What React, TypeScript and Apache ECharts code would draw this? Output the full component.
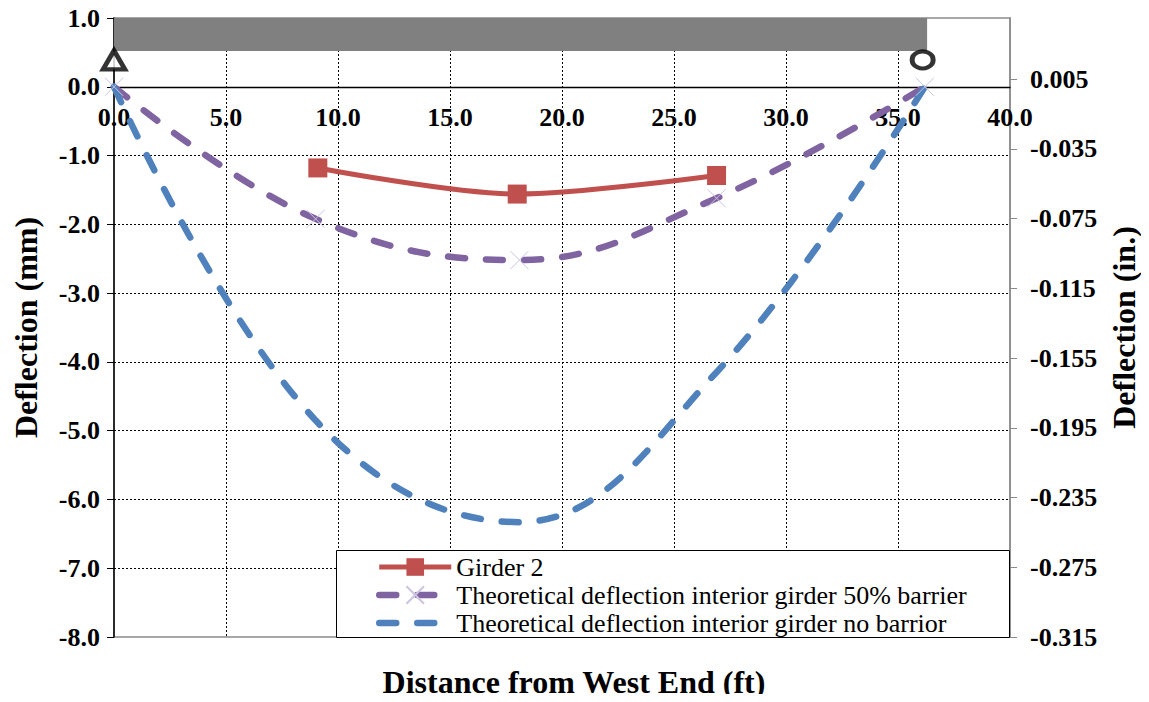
import React, { useEffect, useRef } from "react";
import * as echarts from "echarts";

// ---- data ----
const xTicks = [0, 5, 10, 15, 20, 25, 30, 35, 40];
const girder2X = [9.1, 18.0, 26.9];
const girder2Y = [-1.18, -1.56, -1.29];
const theoryX = [0, 9.0, 18.1, 26.9, 36.2];
const barrier50Y = [0, -1.92, -2.52, -1.62, 0];
const noBarrierY = [0, -4.85, -6.33, -4.15, 0];
const beamSpan = [0, 36.3]; // ft
const beamDepth = [0.52, 1.0]; // mm-axis units
const supportX = [0, 36.1];
const supportY = [0.39, 0.39];
const rightAxisMin = -0.315;
const rightAxisStep = 0.04;

const FONT = "Times New Roman";
const xMark = "path://M0,0L10,10M10,0L0,10";

export default function App() {
  const ref = useRef<HTMLDivElement>(null);
  useEffect(() => {
    if (!ref.current) return;
    const chart = echarts.init(ref.current, undefined, { renderer: "svg" });
    const tickFont = { fontFamily: FONT, fontWeight: "bold" as const, fontSize: 26, color: "#000" };
    const titleFont = { fontFamily: FONT, fontWeight: "bold" as const, fontSize: 32, color: "#000" };
    chart.setOption({
      animation: false,
      backgroundColor: "#fff",
      textStyle: { fontFamily: FONT },
      title: {
        text: "Distance from West End (ft)",
        left: 569,
        top: 661,
        textAlign: "center",
        textStyle: titleFont,
      },
      grid: {
        left: 114,
        right: 139,
        top: 18,
        bottom: 65,
        show: true,
        borderColor: "#8a8a8a",
        borderWidth: 1.5,
        backgroundColor: "transparent",
      },
      legend: {
        data: [
          "Girder 2",
          "Theoretical deflection interior girder 50% barrier",
          "Theoretical deflection interior girder no barrior",
        ],
        orient: "vertical",
        left: 376,
        top: 553,
        itemWidth: 72,
        itemHeight: 22,
        itemGap: 0,
        padding: 0,
        z: 20,
        lineStyle: { width: "inherit" },
        textStyle: { fontFamily: FONT, fontSize: 26, color: "#000", lineHeight: 28 },
      },
      graphic: [
        {
          type: "rect",
          z: 15,
          shape: { x: 336.5, y: 550.5, width: 673, height: 87 },
          style: { fill: "#fff", stroke: "#000", lineWidth: 1 },
        },
      ],
      xAxis: {
        type: "value",
        position: "top",
        offset: -68.8,
        min: xTicks[0],
        max: xTicks[xTicks.length - 1],
        interval: 5,
        axisLine: { show: true, onZero: false, lineStyle: { color: "#000", width: 1.3 } },
        axisTick: { show: false },
        axisLabel: { ...tickFont, inside: true, margin: 18, formatter: (v: number) => v.toFixed(1) },
        splitLine: {
          show: true,
          showMinLine: false,
          showMaxLine: false,
          lineStyle: { color: "#000", type: [2, 2], width: 1 },
        },
      },
      yAxis: [
        {
          type: "value",
          min: -8,
          max: 1,
          interval: 1,
          name: "Deflection (mm)",
          nameLocation: "middle",
          nameRotate: 90,
          nameGap: 72,
          nameTextStyle: titleFont,
          axisLine: { show: true, onZero: false, lineStyle: { color: "#000", width: 1.5 } },
          axisTick: { show: true, inside: false, length: 7, lineStyle: { color: "#000" } },
          axisLabel: { ...tickFont, margin: 14, formatter: (v: number) => v.toFixed(1) },
          splitLine: {
            show: true,
            showMinLine: false,
            showMaxLine: false,
            lineStyle: { color: "#000", type: [2, 2], width: 1 },
          },
        },
        {
          type: "value",
          position: "right",
          min: 0,
          max: (0.04 - rightAxisMin) / rightAxisStep,
          interval: 1,
          name: "Deflection (in.)",
          nameLocation: "middle",
          nameRotate: 90,
          nameGap: 98,
          nameTextStyle: titleFont,
          axisLine: { show: true, onZero: false, lineStyle: { color: "#8a8a8a", width: 1.5 } },
          axisTick: { show: true, inside: false, length: 7, lineStyle: { color: "#8a8a8a" } },
          axisLabel: {
            ...tickFont,
            margin: 20,
            showMaxLabel: false,
            formatter: (v: number) => (rightAxisMin + v * rightAxisStep).toFixed(3),
          },
          splitLine: { show: false },
        },
      ],
      series: [
        {
          name: "Girder 2",
          type: "line",
          yAxisIndex: 0,
          data: girder2X.map((x, i) => [x, girder2Y[i]]),
          smooth: 0.3,
          symbol: "rect",
          symbolSize: 19,
          clip: false,
          z: 4,
          lineStyle: { color: "#C0504D", width: 5 },
          itemStyle: { color: "#C0504D" },
        },
        {
          name: "Theoretical deflection interior girder 50% barrier",
          type: "line",
          yAxisIndex: 0,
          data: theoryX.map((x, i) => [x, barrier50Y[i]]),
          smooth: 0.4,
          symbol: xMark,
          symbolSize: 18,
          clip: false,
          z: 3,
          lineStyle: { color: "#8064A2", width: 6.5, type: [17, 21], cap: "round" },
          itemStyle: { color: "none", borderColor: "#cdc4e0", borderWidth: 1 },
        },
        {
          name: "Theoretical deflection interior girder no barrior",
          type: "line",
          yAxisIndex: 0,
          data: theoryX.map((x, i) => [x, noBarrierY[i]]),
          smooth: 0.4,
          symbol: "none",
          clip: false,
          z: 3,
          lineStyle: { color: "#4F81BD", width: 6.5, type: [17, 21], cap: "round" },
          itemStyle: { color: "#4F81BD", opacity: 0 },
        },
        {
          name: "supports",
          type: "scatter",
          yAxisIndex: 0,
          clip: false,
          z: 5,
          data: [
            { value: [supportX[0], supportY[0]], symbol: "triangle", symbolSize: [22, 19] },
            { value: [supportX[1], supportY[1]], symbol: "circle", symbolSize: [21, 17] },
          ],
          itemStyle: { color: "#fff", borderColor: "#000", borderWidth: 4.5 },
          markArea: {
            silent: true,
            itemStyle: { color: "#808080" },
            data: [
              [
                { coord: [beamSpan[0], beamDepth[0]] },
                { coord: [beamSpan[1], beamDepth[1]] },
              ],
            ],
          },
        },
      ],
    });
    return () => chart.dispose();
  }, []);
  return <div ref={ref} style={{ width: 1149, height: 702, margin: -8 }} />;
}
